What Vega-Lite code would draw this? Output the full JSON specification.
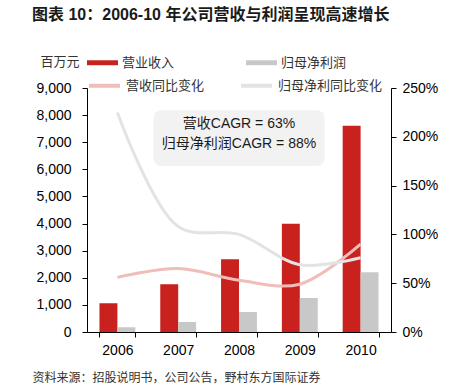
{
  "$schema": "https://vega.github.io/schema/vega-lite/v6.json",
  "width": 304,
  "height": 244,
  "autosize": {"type": "none"},
  "padding": {"left": 87, "top": 88, "right": 61, "bottom": 59},
  "background": "white",
  "title": {
    "text": "图表 10：2006-10 年公司营收与利润呈现高速增长",
    "anchor": "start",
    "frame": "group",
    "dx": -55,
    "offset": 24,
    "font": "Liberation Sans, Noto Sans CJK SC",
    "fontSize": 16,
    "fontWeight": "bold",
    "color": "#1a1a1a"
  },
  "datasets": {
    "bars": [
      {"year": "2006", "series": "营业收入", "value": 1060},
      {"year": "2007", "series": "营业收入", "value": 1760},
      {"year": "2008", "series": "营业收入", "value": 2680},
      {"year": "2009", "series": "营业收入", "value": 3995},
      {"year": "2010", "series": "营业收入", "value": 7610},
      {"year": "2006", "series": "归母净利润", "value": 173},
      {"year": "2007", "series": "归母净利润", "value": 369},
      {"year": "2008", "series": "归母净利润", "value": 738},
      {"year": "2009", "series": "归母净利润", "value": 1254},
      {"year": "2010", "series": "归母净利润", "value": 2202}
    ],
    "lines": [
      {"year": "2006", "series": "营收同比变化", "value": 0.56},
      {"year": "2007", "series": "营收同比变化", "value": 0.65},
      {"year": "2008", "series": "营收同比变化", "value": 0.53},
      {"year": "2009", "series": "营收同比变化", "value": 0.49},
      {"year": "2010", "series": "营收同比变化", "value": 0.90},
      {"year": "2006", "series": "归母净利同比变化", "value": 2.25},
      {"year": "2007", "series": "归母净利同比变化", "value": 1.08},
      {"year": "2008", "series": "归母净利同比变化", "value": 1.00},
      {"year": "2009", "series": "归母净利同比变化", "value": 0.69},
      {"year": "2010", "series": "归母净利同比变化", "value": 0.76}
    ],
    "box": [
      {"year": "2008", "value": 7150}
    ],
    "notes": [
      {"year": "2008", "value": 7672, "label": "营收CAGR = 63%"},
      {"year": "2008", "value": 6934, "label": "归母净利润CAGR = 88%"}
    ]
  },
  "encoding": {
    "x": {
      "field": "year",
      "type": "nominal",
      "scale": {"paddingInner": 0.41, "paddingOuter": 0.205},
      "axis": {
        "title": "资料来源：招股说明书，公司公告，野村东方国际证券",
        "titleAnchor": "start",
        "titleAlign": "left",
        "titleX": -55,
        "titleY": 45,
        "titleBaseline": "middle",
        "titleFont": "Noto Sans CJK SC",
        "titleFontSize": 12,
        "titleFontWeight": "normal",
        "titleColor": "#333333",
        "labelAngle": 0,
        "labelFont": "Liberation Sans",
        "labelFontSize": 14,
        "labelColor": "#000000",
        "labelPadding": 6,
        "tickBand": "extent",
        "tickSize": 5,
        "tickColor": "#000000",
        "domainColor": "#000000"
      }
    }
  },
  "layer": [
    {
      "layer": [
        {
          "data": {"name": "bars"},
          "mark": {"type": "bar"},
          "encoding": {
            "xOffset": {"field": "series", "type": "nominal", "scale": {"domain": ["营业收入", "归母净利润"], "paddingInner": 0, "paddingOuter": 0}},
            "y": {
              "field": "value",
              "type": "quantitative",
              "scale": {"domain": [0, 9000], "nice": false},
              "axis": {
                "title": "百万元",
                "titleAngle": 0,
                "titleAlign": "left",
                "titleAnchor": "start",
                "titleX": -47,
                "titleY": -27,
                "titleBaseline": "middle",
                "titleFont": "Noto Sans CJK SC",
                "titleFontSize": 13,
                "titleFontWeight": "normal",
                "titleColor": "#333333",
                "values": [0, 1000, 2000, 3000, 4000, 5000, 6000, 7000, 8000, 9000],
                "format": ",d",
                "grid": false,
                "labelOverlap": false,
                "labelFlush": false,
                "labelFont": "Liberation Sans",
                "labelFontSize": 14,
                "labelColor": "#000000",
                "labelPadding": 11,
                "tickSize": 5,
                "tickColor": "#000000",
                "domainColor": "#000000"
              }
            },
            "fill": {
              "field": "series",
              "type": "nominal",
              "scale": {"domain": ["营业收入", "归母净利润"], "range": ["#C9211E", "#C8C8C8"]},
              "legend": {
                "title": null,
                "orient": "none",
                "legendX": 0,
                "legendY": -41,
                "direction": "horizontal",
                "columns": 2,
                "columnPadding": 71,
                "padding": 0,
                "symbolType": "M-1,-0.16L1,-0.16L1,0.16L-1,0.16Z",
                "symbolSize": 961,
                "symbolStrokeWidth": 0,
                "labelFont": "Noto Sans CJK SC",
                "labelFontSize": 13,
                "labelColor": "#333333",
                "labelOffset": 4
              }
            }
          }
        },
        {
          "data": {"name": "box"},
          "mark": {
            "type": "point",
            "filled": true,
            "shape": "M-0.9,-0.327L0.9,-0.327Q1,-0.327,1,-0.227L1,0.227Q1,0.327,0.9,0.327L-0.9,0.327Q-1,0.327,-1,0.227L-1,-0.227Q-1,-0.327,-0.9,-0.327Z",
            "size": 29241,
            "color": "#F2F2F2",
            "opacity": 1
          },
          "encoding": {
            "y": {
              "field": "value",
              "type": "quantitative",
              "scale": {"domain": [0, 9000], "nice": false},
              "axis": {
                "title": "百万元",
                "titleAngle": 0,
                "titleAlign": "left",
                "titleAnchor": "start",
                "titleX": -47,
                "titleY": -27,
                "titleBaseline": "middle",
                "titleFont": "Noto Sans CJK SC",
                "titleFontSize": 13,
                "titleFontWeight": "normal",
                "titleColor": "#333333",
                "values": [0, 1000, 2000, 3000, 4000, 5000, 6000, 7000, 8000, 9000],
                "format": ",d",
                "grid": false,
                "labelOverlap": false,
                "labelFlush": false,
                "labelFont": "Liberation Sans",
                "labelFontSize": 14,
                "labelColor": "#000000",
                "labelPadding": 11,
                "tickSize": 5,
                "tickColor": "#000000",
                "domainColor": "#000000"
              }
            }
          }
        },
        {
          "data": {"name": "notes"},
          "mark": {
            "type": "text",
            "font": "Liberation Sans, Noto Sans CJK SC",
            "fontSize": 14,
            "color": "#1a1a1a",
            "baseline": "middle",
            "align": "center"
          },
          "encoding": {
            "y": {
              "field": "value",
              "type": "quantitative",
              "scale": {"domain": [0, 9000], "nice": false},
              "axis": {
                "title": "百万元",
                "titleAngle": 0,
                "titleAlign": "left",
                "titleAnchor": "start",
                "titleX": -47,
                "titleY": -27,
                "titleBaseline": "middle",
                "titleFont": "Noto Sans CJK SC",
                "titleFontSize": 13,
                "titleFontWeight": "normal",
                "titleColor": "#333333",
                "values": [0, 1000, 2000, 3000, 4000, 5000, 6000, 7000, 8000, 9000],
                "format": ",d",
                "grid": false,
                "labelOverlap": false,
                "labelFlush": false,
                "labelFont": "Liberation Sans",
                "labelFontSize": 14,
                "labelColor": "#000000",
                "labelPadding": 11,
                "tickSize": 5,
                "tickColor": "#000000",
                "domainColor": "#000000"
              }
            },
            "text": {"field": "label"}
          }
        }
      ]
    },
    {
      "data": {"name": "lines"},
      "mark": {"type": "line", "interpolate": "catmull-rom", "strokeWidth": 3},
      "encoding": {
        "y": {
          "field": "value",
          "type": "quantitative",
          "scale": {"domain": [0, 2.5], "nice": false},
          "axis": {
            "orient": "right",
            "title": null,
            "values": [0, 0.5, 1, 1.5, 2, 2.5],
            "format": ".0%",
            "grid": false,
            "labelOverlap": false,
            "labelFlush": false,
            "labelFont": "Liberation Sans",
            "labelFontSize": 14,
            "labelColor": "#000000",
            "labelPadding": 6,
            "tickSize": 5,
            "tickColor": "#000000",
            "domainColor": "#000000"
          }
        },
        "stroke": {
          "field": "series",
          "type": "nominal",
          "scale": {"domain": ["营收同比变化", "归母净利同比变化"], "range": ["#F1BDB8", "#E3E3E3"]},
          "legend": {
            "title": null,
            "orient": "none",
            "legendX": 0,
            "legendY": -20,
            "direction": "horizontal",
            "columns": 2,
            "columnPadding": 28,
            "padding": 0,
            "symbolType": "stroke",
            "symbolSize": 961,
            "symbolStrokeWidth": 4,
            "labelFont": "Noto Sans CJK SC",
            "labelFontSize": 13,
            "labelColor": "#333333",
            "labelOffset": 4
          }
        }
      }
    }
  ],
  "resolve": {"scale": {"y": "independent"}},
  "config": {
    "view": {"stroke": null},
    "axis": {"domainWidth": 1, "tickWidth": 1}
  }
}
